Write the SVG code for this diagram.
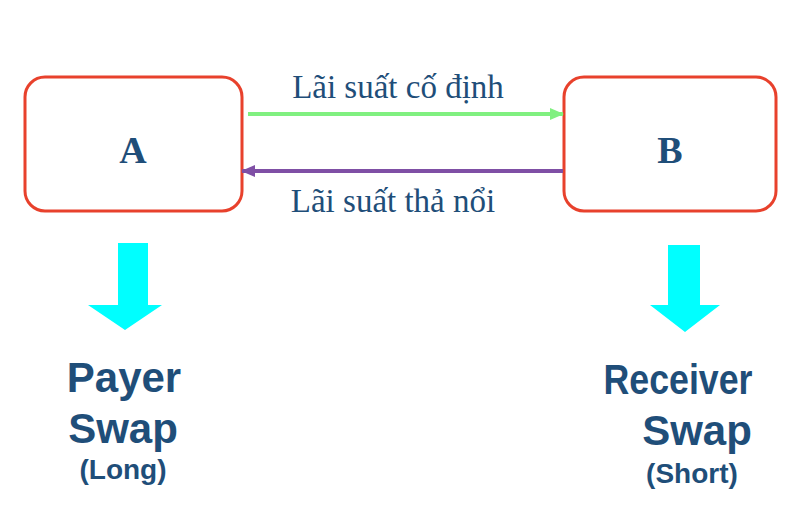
<svg xmlns="http://www.w3.org/2000/svg" width="800" height="515" viewBox="0 0 800 515">
<style>
.box{fill:#fff;stroke:#e8412c;stroke-width:3}
.nt{font-family:"Liberation Serif",serif;font-weight:bold;font-size:38px;fill:#1f4e79;text-anchor:middle}
.lb{font-family:"Liberation Serif",serif;font-size:33px;fill:#1f4e79;text-anchor:middle}
.st{font-family:"Liberation Sans",sans-serif;font-weight:bold;font-size:42px;fill:#1f4e79;text-anchor:middle}
.sm{font-family:"Liberation Sans",sans-serif;font-weight:bold;font-size:28px;fill:#1f4e79;text-anchor:middle}
.dn{fill:#00ffff}
</style>
<defs>
<marker id="mg" markerWidth="14" markerHeight="12" refX="13" refY="6" orient="auto" markerUnits="userSpaceOnUse"><path d="M0,0L14,6L0,12z" fill="#80f080"/></marker>
<marker id="mp" markerWidth="14" markerHeight="12" refX="13" refY="6" orient="auto" markerUnits="userSpaceOnUse"><path d="M0,0L14,6L0,12z" fill="#7f4fa5"/></marker>
</defs>
<rect width="800" height="515" fill="#fff"/>
<g id="A"><rect class="box" x="25" y="77" width="217" height="134" rx="20"/><text class="nt" x="133" y="163">A</text></g>
<g id="B"><rect class="box" x="564" y="77" width="212" height="134" rx="20"/><text class="nt" x="670" y="163">B</text></g>
<g id="connectors">
<line x1="248" y1="114" x2="563" y2="114" stroke="#80f080" stroke-width="4" marker-end="url(#mg)"/>
<line x1="563" y1="171" x2="242" y2="171" stroke="#7f4fa5" stroke-width="4" marker-end="url(#mp)"/>
<text class="lb" x="398" y="98">Lãi suất cố định</text>
<text class="lb" x="393" y="212">Lãi suất thả nổi</text>
</g>
<g id="payer">
<path class="dn" d="M118,243H148V305H162L125,330L88,305H118Z"/>
<text class="st" x="124" y="392">Payer</text>
<text class="st" x="123" y="443">Swap</text>
<text class="sm" x="123" y="479">(Long)</text>
</g>
<g id="receiver">
<path class="dn" d="M668,245H700V305H720L685,332L650,305H668Z"/>
<text class="st" x="678" y="394" textLength="149" lengthAdjust="spacingAndGlyphs">Receiver</text>
<text class="st" x="697" y="445">Swap</text>
<text class="sm" x="692" y="483">(Short)</text>
</g>
</svg>
